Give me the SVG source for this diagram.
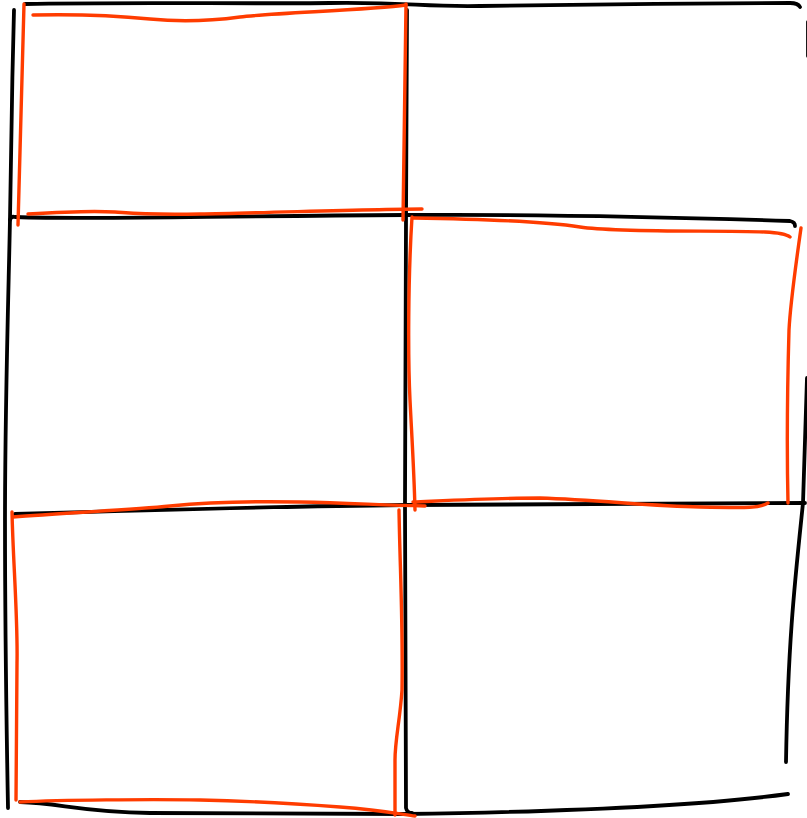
<svg xmlns="http://www.w3.org/2000/svg" width="807" height="818" viewBox="0 0 807 818">
<style>
.ink{fill:none;stroke:#000;stroke-width:3.8;stroke-linecap:round;stroke-linejoin:round}
.hl{fill:none;stroke:#ff3c00;stroke-width:3.4;stroke-linecap:round;stroke-linejoin:round}
</style>
<rect width="807" height="818" fill="#fff"/>
<g id="grid">
<path class="ink" d="M25,4 C120,2 250,4 330,3 S420,7 480,6 S700,3 790,3 Q798,3 800,7"/>
<path class="ink" d="M808,22 L808,56"/>
<path class="ink" d="M14,10 C12,80 11,160 10,218 S5,400 5,520 S6,700 8,808"/>
<path class="ink" d="M407,10 L406,220 L405,505 L406,808 Q407,813 412,813"/>
<path class="ink" d="M20,802 C60,803 80,812 150,813 L405,814 C550,812 700,806 788,794"/>
<path class="ink" d="M10,220 Q11,216 15,217 C100,220 200,216 405,215 C550,214 700,218 790,221 Q795,222 795,226"/>
<path class="ink" d="M15,514 C150,510 300,506 405,505 L805,503"/>
<path class="ink" d="M807,378 L803,503 C795,580 788,640 786,762"/>
</g>
<g id="highlight-1">
<path class="hl" d="M33,15 C80,14 120,16 150,19 S210,21 240,17 S370,10 406,5"/>
<path class="hl" d="M24,4 L18,225"/>
<path class="hl" d="M406,4 C405,80 404,150 403,220"/>
<path class="hl" d="M28,214 C60,212 100,211 115,212 S140,215 200,214 S380,209 422,209"/>
</g>
<g id="highlight-2">
<path class="hl" d="M413,218 C480,219 540,221 580,227 S720,230 765,232 Q785,233 790,237"/>
<path class="hl" d="M412,217 C408,280 408,360 410,400 S414,470 415,510"/>
<path class="hl" d="M801,228 C795,270 790,310 789,330 C787,400 787,460 788,503"/>
<path class="hl" d="M413,502 C460,500 500,498 540,498 C600,500 650,506 700,507 S760,508 768,503"/>
</g>
<g id="highlight-3">
<path class="hl" d="M13,517 C60,513 130,510 170,506 S250,501 300,502 S380,505 425,506"/>
<path class="hl" d="M12,512 C13,560 18,620 17,663 L16,800"/>
<path class="hl" d="M399,510 C400,570 403,620 402,690 C400,720 395,740 395,760 L395,815"/>
<path class="hl" d="M20,802 C60,800 150,799 200,800 S300,804 340,807 S400,814 415,816"/>
</g>
</svg>
